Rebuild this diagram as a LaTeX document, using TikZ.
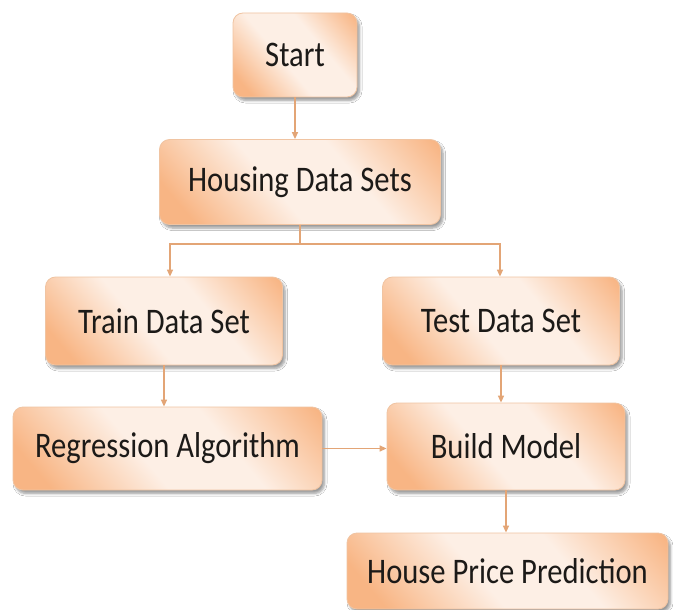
\documentclass[tikz,border=0pt]{standalone}
\usepackage{fontspec}
\newfontfamily\boxfont[FakeStretch=0.85]{Carlito}
\usetikzlibrary{arrows.meta,shadows.blur}
\definecolor{darkor}{HTML}{F8B584}
\definecolor{midor}{HTML}{FBD5B9}
\definecolor{lightor}{HTML}{FDEFE5}
\definecolor{edgeor}{HTML}{F0C4A2}
\definecolor{lineor}{HTML}{E3A576}
\definecolor{txt}{HTML}{1C1A18}
\pgfdeclareverticalshading{boxshade}{100bp}{color(0bp)=(darkor); color(22bp)=(darkor); color(34bp)=(midor); color(44bp)=(lightor); color(62bp)=(lightor); color(72bp)=(midor); color(84bp)=(darkor); color(100bp)=(darkor)}
\tikzset{
  flowbox/.style={rectangle, rounded corners=10pt, draw=edgeor, line width=0.8pt,
    shade, shading=boxshade, shading angle=-50,
    blur shadow={shadow xshift=2.5pt, shadow yshift=-3.5pt, shadow blur steps=6, shadow blur radius=2.5pt, shadow opacity=40},
    inner sep=0pt, text=txt, font=\boxfont\fontsize{36}{40}\selectfont},
  flowarrow/.style={draw=lineor, line width=1.3pt, -{Triangle[length=7pt,width=6pt,fill=lineor]}},
  flowline/.style={draw=lineor, line width=1.3pt}
}
\begin{document}
\begin{tikzpicture}[x=1pt,y=-1pt]
\useasboundingbox (0,0) rectangle (673,610);
\fill[white] (0,0) rectangle (673,610);
\node[flowbox, minimum width=124pt, minimum height=84pt] (start) at (295,55) {Start};
\node[flowbox, minimum width=281pt, minimum height=85pt] (housing) at (300,182) {Housing Data Sets};
\node[flowbox, minimum width=237pt, minimum height=88pt] (train) at (164,321) {Train Data Set};
\node[flowbox, minimum width=237pt, minimum height=88pt] (test) at (501,321) {Test Data Set};
\node[flowbox, minimum width=309pt, minimum height=83pt] (regr) at (167.5,448.5) {Regression Algorithm};
\node[flowbox, minimum width=238pt, minimum height=87pt] (build) at (506,446.5) {Build Model};
\node[flowbox, minimum width=321pt, minimum height=76pt] (house) at (507.5,571) {House Price Prediction};
\coordinate (sl) at (170,244);
\coordinate (sr) at (500,244);
\draw[flowarrow] (start.south) -- (start.south |- housing.north);
\draw[flowline] (housing.south) -- (housing.south |- sl);
\draw[flowarrow] (housing.south |- sl) -- (sl) -- (sl |- train.north);
\draw[flowarrow] (housing.south |- sr) -- (sr) -- (sr |- test.north);
\draw[flowarrow] (train.south) -- (train.south |- regr.north);
\draw[flowarrow] (test.south) -- (test.south |- build.north);
\draw[flowarrow] (regr.east) -- (regr.east -| build.west);
\draw[flowarrow] (build.south) -- (build.south |- house.north);
\end{tikzpicture}
\end{document}
